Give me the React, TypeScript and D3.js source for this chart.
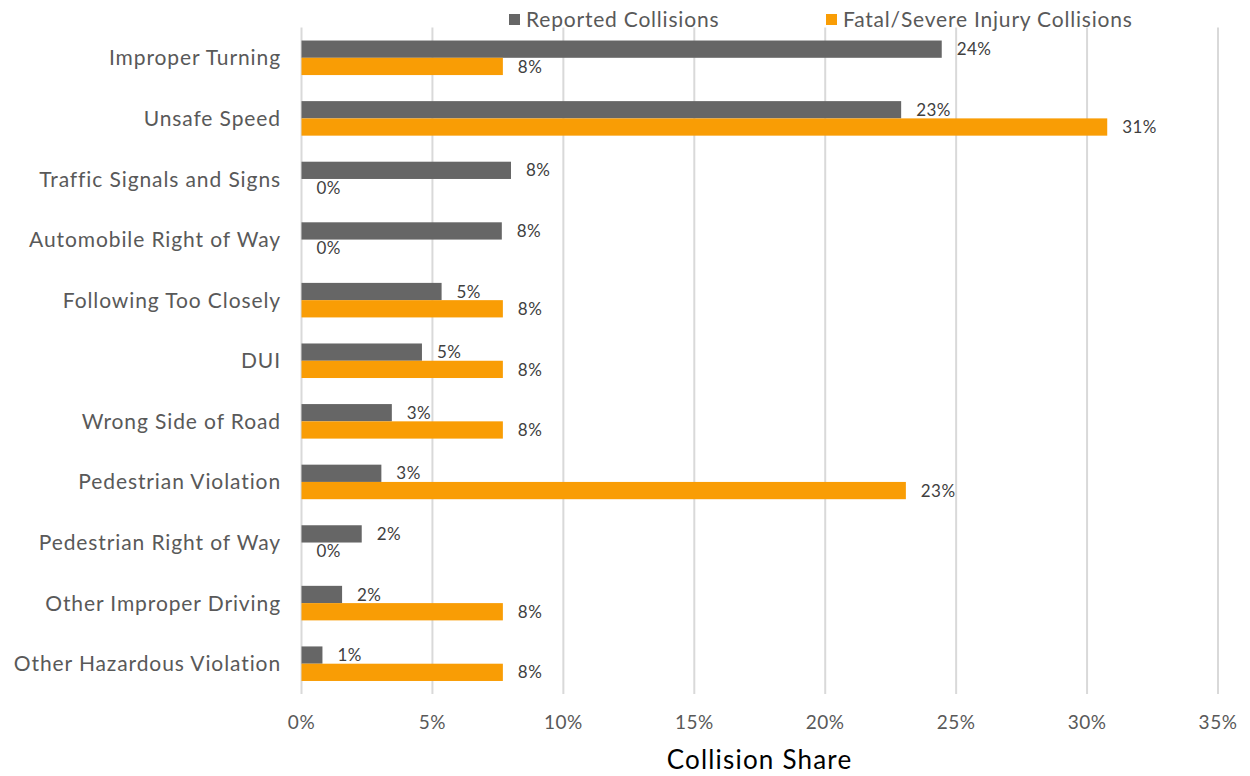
import React from "react";
import * as d3 from "d3";

const categories = [
  "Improper Turning",
  "Unsafe Speed",
  "Traffic Signals and Signs",
  "Automobile Right of Way",
  "Following Too Closely",
  "DUI",
  "Wrong Side of Road",
  "Pedestrian Violation",
  "Pedestrian Right of Way",
  "Other Improper Driving",
  "Other Hazardous Violation",
];
const reported = [24.45, 22.9, 8.0, 7.65, 5.35, 4.6, 3.45, 3.05, 2.3, 1.55, 0.8];
const fatal = [7.69, 30.77, 0, 0, 7.69, 7.69, 7.69, 23.08, 0, 7.69, 7.69];
const seriesNames = ["Reported Collisions", "Fatal/Severe Injury Collisions"];
const seriesColors = ["#666666", "#F99D05"];
const xTicks = [0, 5, 10, 15, 20, 25, 30, 35];

const W = 1250;
const H = 776;
const FONT = "Lato, 'Open Sans', sans-serif";

export default function App() {
  const x = d3.scaleLinear().domain([0, 35]).range([301.5, 1218]);
  const y = d3.scaleBand().domain(categories).range([27.5, 694]).paddingInner(0.43).paddingOuter(0.215);
  const sub = d3.scaleBand().domain(["r", "f"]).range([0, y.bandwidth()]);
  const series = [reported, fatal];

  return (
    <svg width={W} height={H} style={{ position: "absolute", left: 0, top: 0, background: "#fff" }} fontFamily={FONT}>
      {xTicks.map((t) => (
        <line key={t} x1={x(t)} x2={x(t)} y1={27.5} y2={694} stroke="#D9D9D9" strokeWidth={2} />
      ))}
      {categories.map((c, i) => (
        <g key={c}>
          {series.map((vals, s) => {
            const y0 = (y(c) as number) + (sub(s === 0 ? "r" : "f") as number);
            return (
              <g key={s}>
                <rect x={x(0)} y={y0} width={x(vals[i]) - x(0)} height={sub.bandwidth()} fill={seriesColors[s]} />
                <text x={x(vals[i]) + 15} y={y0 + sub.bandwidth() / 2} dy="0.36em" fontSize={17} letterSpacing={0.4} fill="#404040">
                  {Math.round(vals[i])}%
                </text>
              </g>
            );
          })}
          <text x={281} y={(y(c) as number) + y.bandwidth() / 2} dy="0.36em" textAnchor="end" fontSize={21} letterSpacing={0.9} fill="#595959">
            {c}
          </text>
        </g>
      ))}
      {xTicks.map((t) => (
        <text key={t} x={x(t)} y={722} dy="0.36em" textAnchor="middle" fontSize={19} letterSpacing={0.5} fill="#595959">
          {t}%
        </text>
      ))}
      <text x={759.5} y={760} dy="0.36em" textAnchor="middle" fontSize={26} letterSpacing={1.2} fill="#000">
        Collision Share
      </text>
      {seriesNames.map((n, s) => {
        const lx = s === 0 ? 509 : 826;
        return (
          <g key={n}>
            <rect x={lx} y={14} width={11} height={11} fill={seriesColors[s]} />
            <text x={lx + 17} y={19.5} dy="0.36em" fontSize={21} letterSpacing={0.8} fill="#595959">
              {n}
            </text>
          </g>
        );
      })}
    </svg>
  );
}
